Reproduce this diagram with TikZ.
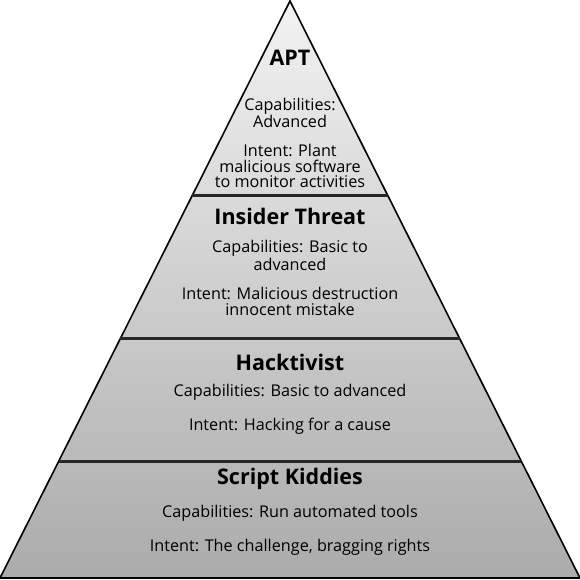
\documentclass[tikz,border=0pt]{standalone}
\usepackage{fontspec}
\setmainfont{Open Sans}
\usetikzlibrary{calc}

\tikzset{
  layertitle/.style={font=\fontsize{21.5}{23}\selectfont\bfseries, inner sep=0pt},
  layertext/.style={font=\fontsize{16.2}{15.8}\selectfont, align=center, inner sep=0pt},
  divider/.style={draw=black!85, line width=2.6pt}
}

\begin{document}
\begin{tikzpicture}[x=1pt, y=-1pt]
        \useasboundingbox (0,0) rectangle (580,579);
        \coordinate (apex) at (290,1);
        \coordinate (bl) at (0,578);
        \coordinate (br) at (580,578);

        % pyramid body
        \shade[top color=black!5, bottom color=black!33] (apex) -- (bl) -- (br) -- cycle;
        \draw[line width=1.6pt, line join=miter] (bl) -- (apex) -- (br);
        \draw[line width=2.2pt] (bl) -- (br);

        % layer borders
        \draw[divider] ($(apex)!0.3374!(bl)$) -- ($(apex)!0.3374!(br)$);
        \draw[divider] ($(apex)!0.5848!(bl)$) -- ($(apex)!0.5848!(br)$);
        \draw[divider] ($(apex)!0.7976!(bl)$) -- ($(apex)!0.7976!(br)$);

        % APT
        \node[layertitle] (apt) at (290,58) {APT};
        \node[layertext] (aptcap) at (290,113) {Capabilities:\\Advanced};
        \node[layertext] (aptint) at (290,166) {Intent: Plant\\malicious software\\to monitor activities};

        % Insider Threat
        \node[layertitle] (insider) at (290,216) {Insider Threat};
        \node[layertext] (insidercap) at (290,255.5) {Capabilities: Basic to\\advanced};
        \node[layertext] (insiderint) at (290,301.5) {Intent: Malicious destruction\\innocent mistake};

        % Hacktivist
        \node[layertitle] (hack) at (290,362) {Hacktivist};
        \node[layertext] (hackcap) at (290,392) {Capabilities: Basic to advanced};
        \node[layertext] (hackint) at (290,426) {Intent: Hacking for a cause};

        % Script Kiddies
        \node[layertitle] (kiddies) at (290,479) {Script Kiddies};
        \node[layertext] (kiddiescap) at (290,513) {Capabilities: Run automated tools};
        \node[layertext] (kiddiesint) at (290,547) {Intent: The challenge, bragging rights};
    \end{tikzpicture}
\end{document}
